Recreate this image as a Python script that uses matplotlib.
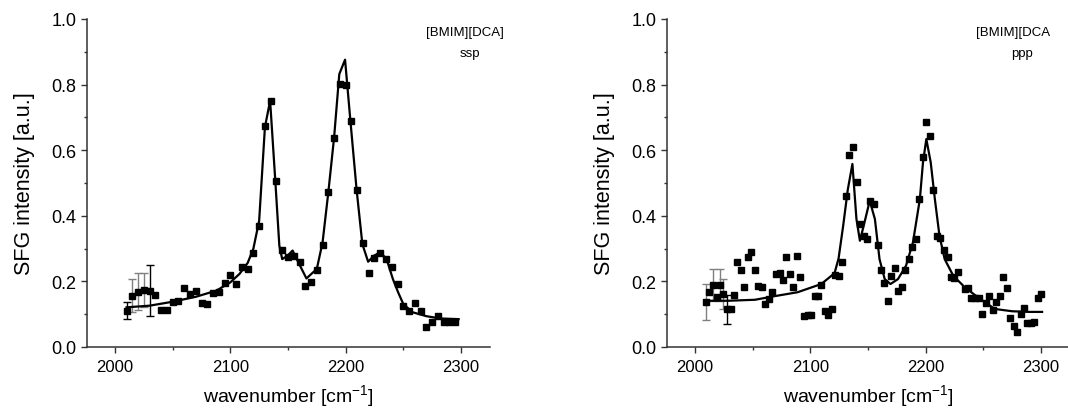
import matplotlib
matplotlib.use('Agg')
import matplotlib.pyplot as plt
from matplotlib.ticker import MultipleLocator

plt.rcParams['font.family'] = ['Liberation Sans', 'DejaVu Sans']

# ssp data (left panel)
ssp_x = [2010, 2015, 2020, 2025, 2030, 2035, 2040, 2045, 2050, 2055,
         2060, 2065, 2070, 2075, 2080, 2085, 2090, 2095, 2100, 2105,
         2110, 2115, 2120, 2125, 2130, 2135, 2140, 2145, 2150, 2155,
         2160, 2165, 2170, 2175, 2180, 2185, 2190, 2195, 2200, 2205,
         2210, 2215, 2220, 2225, 2230, 2235, 2240, 2245, 2250, 2255,
         2260, 2265, 2270, 2275, 2280, 2285, 2290, 2295]
ssp_y = [0.111, 0.156, 0.169, 0.175, 0.172, 0.158, 0.113, 0.113, 0.136, 0.141,
         0.180, 0.163, 0.170, 0.134, 0.132, 0.165, 0.167, 0.196, 0.220, 0.191,
         0.245, 0.238, 0.287, 0.368, 0.673, 0.751, 0.506, 0.297, 0.273, 0.278,
         0.258, 0.187, 0.197, 0.236, 0.312, 0.474, 0.636, 0.803, 0.800, 0.690,
         0.478, 0.316, 0.226, 0.271, 0.286, 0.268, 0.243, 0.192, 0.126, 0.109,
         0.133, 0.111, 0.060, 0.077, 0.094, 0.077, 0.075, 0.077]
ssp_err = [0.025, 0.050, 0.057, 0.052, 0.079]
ssp_err_col = ['black', 'gray', 'gray', 'gray', 'black']

ssp_fit_x = [2010, 2030, 2050, 2070, 2088, 2100, 2108, 2115, 2120, 2125,
             2130, 2134.5, 2139, 2142.5, 2145, 2149.5, 2154, 2159, 2166, 2175,
             2180, 2185, 2190, 2194.5, 2199.5, 2204, 2209.5, 2214.5, 2219.5, 2224.5,
             2230, 2235.5, 2241, 2245.5, 2250, 2258, 2270, 2282, 2298]
ssp_fit_y = [0.121, 0.126, 0.138, 0.153, 0.172, 0.197, 0.223, 0.256, 0.300, 0.385,
             0.670, 0.751, 0.507, 0.309, 0.268, 0.278, 0.294, 0.258, 0.209, 0.238,
             0.319, 0.472, 0.639, 0.832, 0.876, 0.695, 0.480, 0.314, 0.260, 0.278,
             0.289, 0.268, 0.207, 0.167, 0.131, 0.106, 0.094, 0.087, 0.085]

# ppp data (right panel)
ppp_x = [2009.3, 2012.1, 2015.3, 2018.8, 2021.7, 2024.6, 2027.5, 2030.9, 2033.5, 2036.4,
         2039.6, 2042.5, 2045.7, 2048.9, 2051.7, 2054.6, 2058.1, 2061.0, 2063.9, 2067.1,
         2070.3, 2073.4, 2076.0, 2078.9, 2082.1, 2085.3, 2088.5, 2091.4, 2094.2, 2098.0,
         2100.6, 2103.8, 2106.7, 2109.6, 2112.5, 2115.6, 2118.5, 2121.4, 2124.6, 2127.8,
         2130.7, 2133.9, 2136.7, 2140.2, 2143.4, 2146.3, 2148.9, 2152.1, 2155.2, 2158.4,
         2161.0, 2164.2, 2167.1, 2170.3, 2173.2, 2176.4, 2179.2, 2182.4, 2185.6, 2188.5,
         2191.7, 2194.6, 2197.5, 2200.6, 2203.8, 2206.7, 2209.9, 2212.8, 2216.0, 2219.1,
         2222.0, 2224.9, 2228.1, 2233.9, 2236.8, 2239.7, 2243.1, 2246.0, 2249.2, 2252.1,
         2255.3, 2258.2, 2261.3, 2264.5, 2267.4, 2270.3, 2273.5, 2276.4, 2279.3, 2282.5,
         2285.4, 2288.2, 2291.1, 2294.0, 2297.3, 2300.2]
ppp_y = [0.138, 0.167, 0.189, 0.152, 0.189, 0.162, 0.115, 0.117, 0.158, 0.259,
         0.234, 0.183, 0.275, 0.290, 0.234, 0.186, 0.182, 0.130, 0.145, 0.169,
         0.224, 0.226, 0.203, 0.275, 0.223, 0.184, 0.277, 0.214, 0.094, 0.099,
         0.099, 0.155, 0.155, 0.188, 0.110, 0.099, 0.115, 0.218, 0.216, 0.259,
         0.459, 0.584, 0.610, 0.504, 0.374, 0.338, 0.328, 0.444, 0.437, 0.312,
         0.236, 0.195, 0.140, 0.216, 0.241, 0.170, 0.184, 0.236, 0.267, 0.305,
         0.328, 0.451, 0.579, 0.685, 0.644, 0.478, 0.338, 0.332, 0.295, 0.274,
         0.214, 0.211, 0.228, 0.178, 0.180, 0.150, 0.148, 0.148, 0.101, 0.133,
         0.157, 0.113, 0.137, 0.155, 0.213, 0.180, 0.089, 0.064, 0.046, 0.100,
         0.120, 0.074, 0.072, 0.076, 0.148, 0.162]
ppp_err_idx = [0, 2, 4, 5, 6]
ppp_err = [0.055, 0.050, 0.050, 0.045, 0.045]
ppp_err_col = ['gray', 'gray', 'gray', 'gray', 'black']

ppp_fit_x = [2010, 2029, 2052, 2069, 2089, 2109.5, 2121, 2124.5, 2128.5, 2132.5,
             2136.5, 2140, 2143, 2147, 2151.5, 2156, 2160, 2164.5, 2169.5, 2176,
             2183, 2189, 2195, 2197.7, 2200.6, 2204.4, 2208, 2212, 2216.5, 2224,
             2234, 2245.5, 2260, 2275, 2290, 2301]
ppp_fit_y = [0.141, 0.141, 0.144, 0.155, 0.167, 0.192, 0.225, 0.270, 0.370, 0.480,
             0.558, 0.390, 0.324, 0.380, 0.446, 0.390, 0.268, 0.207, 0.192, 0.207,
             0.248, 0.319, 0.451, 0.563, 0.634, 0.563, 0.451, 0.339, 0.268, 0.217,
             0.182, 0.151, 0.116, 0.109, 0.107, 0.107]


def style_axes(ax):
    ax.set_xlim(1975.7, 2325.2)
    ax.set_ylim(0, 1.0)
    ax.xaxis.set_major_locator(MultipleLocator(100))
    ax.xaxis.set_minor_locator(MultipleLocator(50))
    ax.yaxis.set_major_locator(MultipleLocator(0.2))
    ax.yaxis.set_minor_locator(MultipleLocator(0.1))
    ax.yaxis.set_major_formatter(plt.FormatStrFormatter('%.1f'))
    for s in ['top', 'right']:
        ax.spines[s].set_visible(False)
    for s in ['left', 'bottom']:
        ax.spines[s].set_color('#333333')
        ax.spines[s].set_linewidth(1.1)
    ax.tick_params(axis='both', which='major', length=4.5, width=1, color='#333333', direction='out')
    ax.tick_params(axis='both', which='minor', length=2.5, width=1, color='#333333', direction='out')
    ax.tick_params(axis='x', labelsize=12, pad=4)
    ax.tick_params(axis='y', labelsize=13, pad=3)
    ax.set_xlabel('wavenumber [cm$^{\\mathregular{-1}}$]', fontsize=14, labelpad=6)
    ax.set_ylabel('SFG intensity [a.u.]', fontsize=15.5, labelpad=12)


def draw_panel(ax, x, y, fit_x, fit_y, err_idx, err, err_col):
    for i, e, c in zip(err_idx, err, err_col):
        ax.errorbar(x[i], y[i], yerr=e, fmt='none', ecolor=c, elinewidth=1, capsize=3, capthick=1)
    ax.plot(x, y, 's', color='black', ms=5, zorder=3)
    ax.plot(fit_x, fit_y, '-', color='black', lw=1.6, zorder=4)
    style_axes(ax)


fig = plt.figure(figsize=(10.68, 4.14), dpi=100)
ax1 = fig.add_axes([87 / 1068, 66 / 414, 403 / 1068, 328 / 414])
ax2 = fig.add_axes([667 / 1068, 66 / 414, 403 / 1068, 328 / 414])

draw_panel(ax1, ssp_x, ssp_y, ssp_fit_x, ssp_fit_y, [0, 1, 2, 3, 4], ssp_err, ssp_err_col)
draw_panel(ax2, ppp_x, ppp_y, ppp_fit_x, ppp_fit_y, ppp_err_idx, ppp_err, ppp_err_col)

ax1.text(0.938, 0.96, '[BMIM][DCA]', transform=ax1.transAxes, ha='center', va='center', fontsize=9.5)
ax1.text(0.950, 0.896, 'ssp', transform=ax1.transAxes, ha='center', va='center', fontsize=9.5)
ax2.text(0.858, 0.96, '[BMIM][DCA', transform=ax2.transAxes, ha='center', va='center', fontsize=9.5)
ax2.text(0.880, 0.896, 'ppp', transform=ax2.transAxes, ha='center', va='center', fontsize=9.5)

fig.savefig('out.png', dpi=100)
